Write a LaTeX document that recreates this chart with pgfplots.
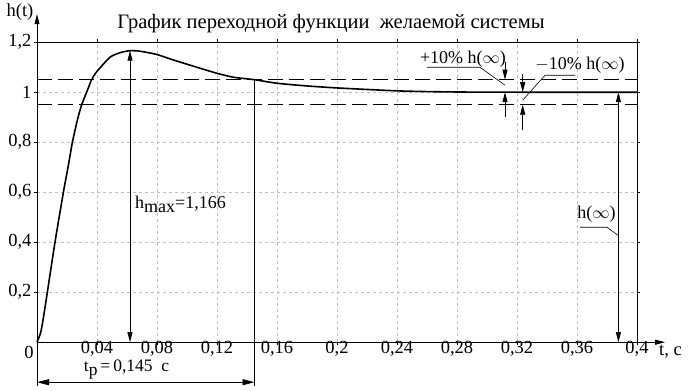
\documentclass[border=0pt]{standalone}
\usepackage{fontspec}
\setmainfont{Liberation Serif}
\usepackage{pgfplots}
\pgfplotsset{compat=1.18}
\usetikzlibrary{arrows.meta}
\begin{document}
\begin{tikzpicture}[>={Triangle[length=10pt,width=5pt]}]
\begin{axis}[
  at={(37pt,48pt)}, anchor=south west,
  width=600pt, height=300pt, scale only axis,
  xmin=0, xmax=0.4, ymin=0, ymax=1.2,
  clip=false,
  xtick={0.04,0.08,0.12,0.16,0.2,0.24,0.28,0.32,0.36,0.4},
  xticklabels={{0,04},{0,08},{0,12},{0,16},{0,2},{0,24},{0,28},{0,32},{0,36},{0,4}},
  ytick={0.2,0.4,0.6,0.8,1,1.2},
  yticklabels={{0,2},{0,4},{0,6},{0,8},{1},{1,2}},
  grid=major,
  grid style={gray!50, dash pattern=on 3pt off 3pt, line width=0.6pt},
  axis line style={line width=0.8pt},
  tick align=outside, major tick length=3pt,
  tick style={black, line width=0.6pt},
  ticklabel style={font=\fontsize{18.5}{20}\selectfont},
  xticklabel style={yshift=5.5pt, inner sep=1pt},
  yticklabel style={xshift=1pt},
]
% tolerance band
\addplot[black, line width=0.8pt, dash pattern=on 15pt off 6pt] coordinates {(0,1.05)(0.4,1.05)};
\addplot[black, line width=0.8pt, dash pattern=on 15pt off 6pt] coordinates {(0,0.95)(0.4,0.95)};
% step response
\addplot[black, line width=1.6pt, smooth, tension=0.4] coordinates {
(0,0)(0.0025,0.04)(0.0045,0.107)(0.0069,0.2)(0.012,0.4)(0.0176,0.6)(0.0209,0.707)(0.0236,0.8)
(0.0271,0.893)(0.0298,0.95)(0.0331,1.0)(0.0364,1.05)(0.0398,1.082)(0.0487,1.14)(0.0553,1.158)
(0.062,1.166)(0.0687,1.164)(0.0798,1.151)(0.0909,1.129)(0.1065,1.10)(0.1198,1.076)(0.1309,1.06)
(0.145,1.05)(0.1598,1.036)(0.178,1.026)(0.1975,1.018)(0.22,1.011)(0.242,1.005)(0.265,1.002)
(0.29,1.0005)(0.33,1.0)(0.4,1.0)};
% axis arrows
\draw[->, line width=0.8pt] (axis cs:0,1.2) -- (axis cs:0,1.312);
\draw[->, line width=0.8pt] (axis cs:0.4,0) -- (axis cs:0.4187,0);
\node[font=\fontsize{18.5}{20}\selectfont] at (axis cs:-0.0113,1.322) {h(t)};
\node[font=\fontsize{18.5}{20}\selectfont] at (axis cs:0.4223,-0.036) {t, с};
\node[font=\fontsize{18.5}{20}\selectfont, inner sep=1pt] at (axis cs:-0.0053,-0.04) {0};
% title
\node[font=\fontsize{20.5}{22}\selectfont] at (axis cs:0.196,1.274) {График переходной функции\ \ желаемой системы};
% h max
\draw[<->, line width=0.8pt] (axis cs:0.062,0) -- (axis cs:0.062,1.166);
\node[anchor=west, inner sep=0pt, font=\fontsize{18}{20}\selectfont] at (axis cs:0.0653,0.552) {h\raisebox{-0.4ex}{max}=1,166};
% settling time
\draw[line width=0.8pt] (axis cs:0.145,1.05) -- (axis cs:0.145,-0.176);
\draw[line width=0.8pt] (axis cs:0,0) -- (axis cs:0,-0.176);
\draw[<->, >={Triangle[length=12pt,width=6pt]}, line width=0.8pt] (axis cs:0,-0.16) -- (axis cs:0.145,-0.16);
\node[font=\fontsize{17.5}{19}\selectfont, inner sep=0pt] at (axis cs:0.0597,-0.109) {t\raisebox{-0.4ex}{р}\,=\,0,145\ \ с};
% h(inf)
\draw[<->, line width=0.8pt] (axis cs:0.3876,0) -- (axis cs:0.3876,1.0);
\node[font=\fontsize{18}{20}\selectfont] at (axis cs:0.373,0.512) {h($\infty$)};
\draw[line width=0.6pt] (axis cs:0.362,0.46) -- (axis cs:0.38,0.46) -- (axis cs:0.3875,0.427);
% +10%
\draw[->, line width=0.8pt] (axis cs:0.312,1.12) -- (axis cs:0.312,1.05);
\draw[->, line width=0.8pt] (axis cs:0.312,0.9) -- (axis cs:0.312,1.0);
\node[font=\fontsize{18}{20}\selectfont] at (axis cs:0.284,1.134) {+10\% h($\infty$)};
\draw[line width=0.6pt] (axis cs:0.26,1.1) -- (axis cs:0.2953,1.1) -- (axis cs:0.312,1.028);
% -10%
\draw[->, line width=0.8pt] (axis cs:0.3238,1.073) -- (axis cs:0.3238,1.0);
\draw[->, line width=0.8pt] (axis cs:0.3238,0.85) -- (axis cs:0.3238,0.95);
\node[font=\fontsize{18}{20}\selectfont] at (axis cs:0.362,1.11) {$-$10\% h($\infty$)};
\draw[line width=0.6pt] (axis cs:0.3587,1.068) -- (axis cs:0.3387,1.068) -- (axis cs:0.3238,0.968);
\end{axis}
\useasboundingbox (0,0) rectangle (688pt,388pt);
\end{tikzpicture}
\end{document}
